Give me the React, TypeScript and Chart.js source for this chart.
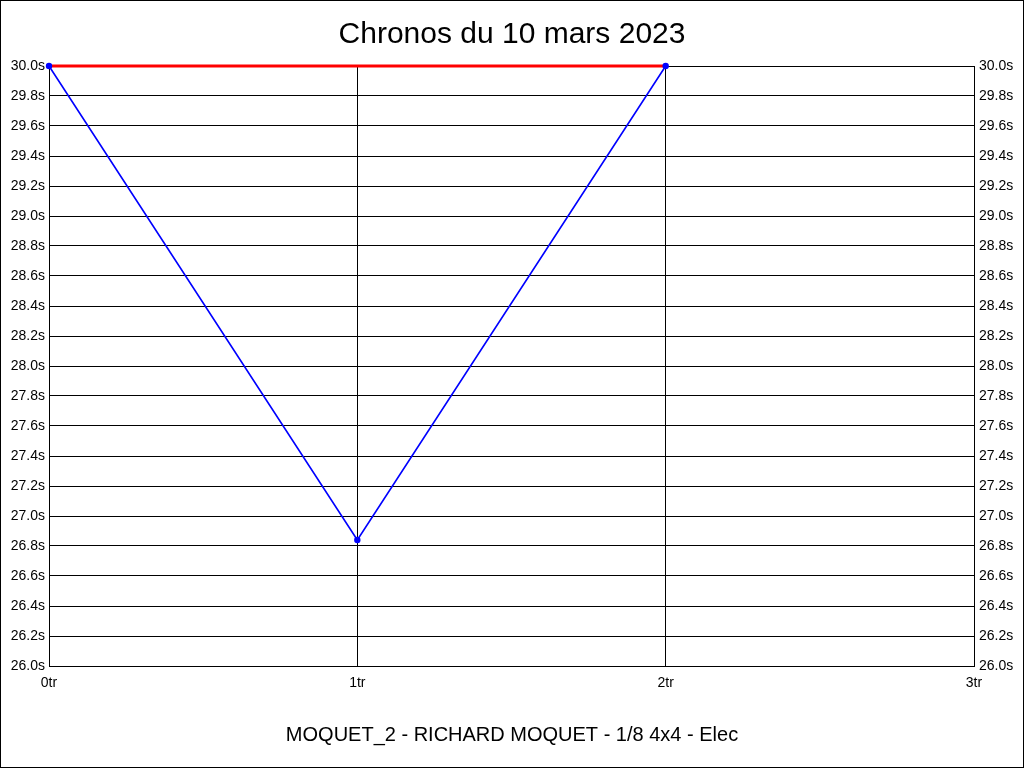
import React, { useEffect, useRef } from "react";
import { Chart, registerables } from "chart.js";

Chart.register(...registerables);

const titleText = "Chronos du 10 mars 2023";
const subtitleText = "MOQUET_2 - RICHARD MOQUET - 1/8 4x4 - Elec";
const lapNumbers = [0, 1, 2];
const lapTimes = [30.0, 26.84, 30.0];
const refLaps = [0, 2];
const refTimes = [30.0, 30.0];
const yMin = 26.0;
const yMax = 30.0;
const yStep = 0.2;
const xMin = 0;
const xMax = 3;

const FONT = "'Liberation Sans', Arial, sans-serif";

const frame = {
  id: "frame",
  beforeDraw(chart: any) {
    const c = chart.ctx;
    c.save();
    c.fillStyle = "#ffffff";
    c.fillRect(0, 0, chart.width, chart.height);
    c.restore();
  },
  afterDraw(chart: any) {
    const c = chart.ctx;
    c.save();
    c.strokeStyle = "#000000";
    c.lineWidth = 1;
    c.strokeRect(0.5, 0.5, chart.width - 1, chart.height - 1);
    c.restore();
  },
};

export default function App() {
  const ref = useRef<HTMLCanvasElement | null>(null);
  useEffect(() => {
    if (!ref.current) return;
    const yTick = (v: any) => Number(v).toFixed(1) + "s";
    const chart = new Chart(ref.current, {
      type: "line",
      data: {
        datasets: [
          {
            label: "laps",
            data: lapNumbers.map((x, i) => ({ x, y: lapTimes[i] })),
            borderColor: "#0000ff",
            backgroundColor: "#0000ff",
            borderWidth: 1.6,
            pointRadius: 3.2,
            pointBorderWidth: 0,
            pointBackgroundColor: "#0000ff",
            tension: 0,
            clip: false as any,
          },
          {
            label: "ref",
            data: refLaps.map((x, i) => ({ x, y: refTimes[i] })),
            borderColor: "#ff0000",
            borderWidth: 3,
            pointRadius: 0,
            tension: 0,
            clip: false as any,
          },
        ],
      },
      options: {
        responsive: false,
        animation: false,
        layout: { padding: 0 },
        plugins: {
          legend: { display: false },
          tooltip: { enabled: false },
          title: {
            display: true,
            text: titleText,
            color: "#000000",
            font: { family: FONT, size: 30, weight: "normal" },
            padding: { top: 17, bottom: 13 },
          },
          subtitle: {
            display: true,
            text: subtitleText,
            position: "bottom",
            color: "#000000",
            font: { family: FONT, size: 20, weight: "normal" },
            padding: { top: 10, bottom: 21 },
          },
        },
        scales: {
          x: {
            type: "linear",
            min: xMin,
            max: xMax,
            ticks: {
              stepSize: 1,
              color: "#000000",
              font: { family: FONT, size: 14 },
              padding: 9,
              maxRotation: 0,
              callback: (v: any) => v + "tr",
            },
            grid: { color: "#000000", lineWidth: 1, drawTicks: false },
            border: { color: "#000000", width: 1 },
            afterFit: (s: any) => {
              s.height = 47;
            },
          },
          y: {
            type: "linear",
            position: "left",
            min: yMin,
            max: yMax,
            ticks: {
              stepSize: yStep,
              color: "#000000",
              font: { family: FONT, size: 14 },
              padding: 4,
              callback: yTick,
            },
            grid: { color: "#000000", lineWidth: 1, drawTicks: false },
            border: { color: "#000000", width: 1 },
            afterFit: (s: any) => {
              s.width = 49;
            },
          },
          y2: {
            type: "linear",
            position: "right",
            min: yMin,
            max: yMax,
            ticks: {
              stepSize: yStep,
              color: "#000000",
              font: { family: FONT, size: 14 },
              padding: 5,
              callback: yTick,
            },
            grid: { display: false, drawTicks: false },
            border: { color: "#000000", width: 1 },
            afterFit: (s: any) => {
              s.width = 50;
            },
          },
        },
      },
      plugins: [frame],
    });
    return () => chart.destroy();
  }, []);
  return (
    <div style={{ position: "fixed", left: 0, top: 0, width: 1024, height: 768 }}>
      <canvas ref={ref} width={1024} height={768} style={{ display: "block" }} />
    </div>
  );
}
